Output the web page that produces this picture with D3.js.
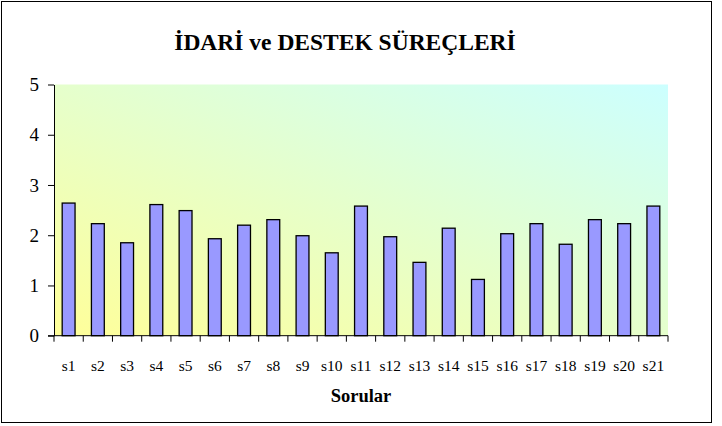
<!DOCTYPE html>
<html>
<head>
<meta charset="utf-8">
<script src="https://cdn.jsdelivr.net/npm/d3@7"></script>
<style>
  body { margin: 0; background: #fff; }
  svg { display: block; }
  svg text { font-family: "Liberation Serif", "DejaVu Serif", serif; fill: #000; }
</style>
</head>
<body>
<svg id="chart" width="722" height="426"></svg>
<script>
// chart data
var categories = ["s1","s2","s3","s4","s5","s6","s7","s8","s9","s10","s11",
                  "s12","s13","s14","s15","s16","s17","s18","s19","s20","s21"];
var values = [2.64, 2.23, 1.85, 2.61, 2.49, 1.93, 2.20, 2.31, 1.99, 1.65, 2.58,
              1.97, 1.46, 2.14, 1.12, 2.03, 2.23, 1.82, 2.31, 2.23, 2.58];
var yTicks = [0, 1, 2, 3, 4, 5];
var titleText = "İDARİ ve DESTEK SÜREÇLERİ";
var xTitleText = "Sorular";

var margin = {top: 84.5, left: 54, right: 722 - 668, bottom: 426 - 335.7},
    width = 722 - margin.left - margin.right,
    height = 426 - margin.top - margin.bottom;

var svg = d3.select("#chart");

// outer frame
svg.append("rect")
   .attr("x", 1.5).attr("y", 1.5)
   .attr("width", 710).attr("height", 421)
   .attr("fill", "#fff")
   .attr("stroke", "#000")
   .attr("stroke-width", 1);

// gradient for plot area: yellow bottom-left -> cyan top-right
var defs = svg.append("defs");
var grad = defs.append("linearGradient")
   .attr("id", "bg")
   .attr("x1", 0).attr("y1", 1)
   .attr("x2", 1).attr("y2", 0);
grad.append("stop").attr("offset", "0%").attr("stop-color", "#ffff99");
grad.append("stop").attr("offset", "100%").attr("stop-color", "#ccffff");

var g = svg.append("g")
   .attr("transform", "translate(" + margin.left + "," + margin.top + ")");

g.append("rect")
   .attr("width", width)
   .attr("height", height)
   .attr("fill", "url(#bg)");

// scales
var x = d3.scaleBand().domain(categories).range([0, width])
          .paddingInner(0.56).paddingOuter(0.28);
var xEdges = d3.scaleLinear().domain([0, categories.length]).range([0, width]);
var y = d3.scaleLinear().domain([0, 5]).range([height, 0]);

// bars
g.selectAll("rect.bar")
   .data(values)
   .enter().append("rect")
   .attr("class", "bar")
   .attr("x", function(d, i) { return x(categories[i]); })
   .attr("y", function(d) { return y(d); })
   .attr("width", x.bandwidth())
   .attr("height", function(d) { return height - y(d); })
   .attr("fill", "#9999ff")
   .attr("stroke", "#000")
   .attr("stroke-width", 1.3);

// y axis
var yAxis = g.append("g")
   .call(d3.axisLeft(y).tickValues(yTicks).tickFormat(d3.format("d")).tickSize(6).tickSizeOuter(0));
yAxis.attr("font-family", null).attr("font-size", null);
yAxis.select(".domain").attr("stroke", "#000");
yAxis.selectAll("text")
   .style("font-size", "19px")
   .attr("x", -15);

// x axis: line with ticks at category edges
var xAxis = g.append("g")
   .attr("transform", "translate(0," + height + ")");
xAxis.append("line")
   .attr("x1", -6).attr("x2", width)
   .attr("stroke", "#000");
xAxis.selectAll("line.tick")
   .data(d3.range(categories.length + 1))
   .enter().append("line")
   .attr("class", "tick")
   .attr("x1", function(d) { return xEdges(d); })
   .attr("x2", function(d) { return xEdges(d); })
   .attr("y1", 0).attr("y2", 6)
   .attr("stroke", "#000");
xAxis.selectAll("text")
   .data(categories)
   .enter().append("text")
   .attr("x", function(d) { return x(d) + x.bandwidth() / 2; })
   .attr("y", 35)
   .attr("text-anchor", "middle")
   .style("font-size", "15.5px")
   .text(function(d) { return d; });

// titles
svg.append("text")
   .attr("x", 345).attr("y", 50)
   .attr("text-anchor", "middle")
   .style("font-size", "23.5px")
   .attr("font-weight", "bold")
   .text(titleText);

svg.append("text")
   .attr("x", margin.left + width / 2).attr("y", 402)
   .attr("text-anchor", "middle")
   .style("font-size", "18.5px")
   .attr("font-weight", "bold")
   .text(xTitleText);
</script>
</body>
</html>
